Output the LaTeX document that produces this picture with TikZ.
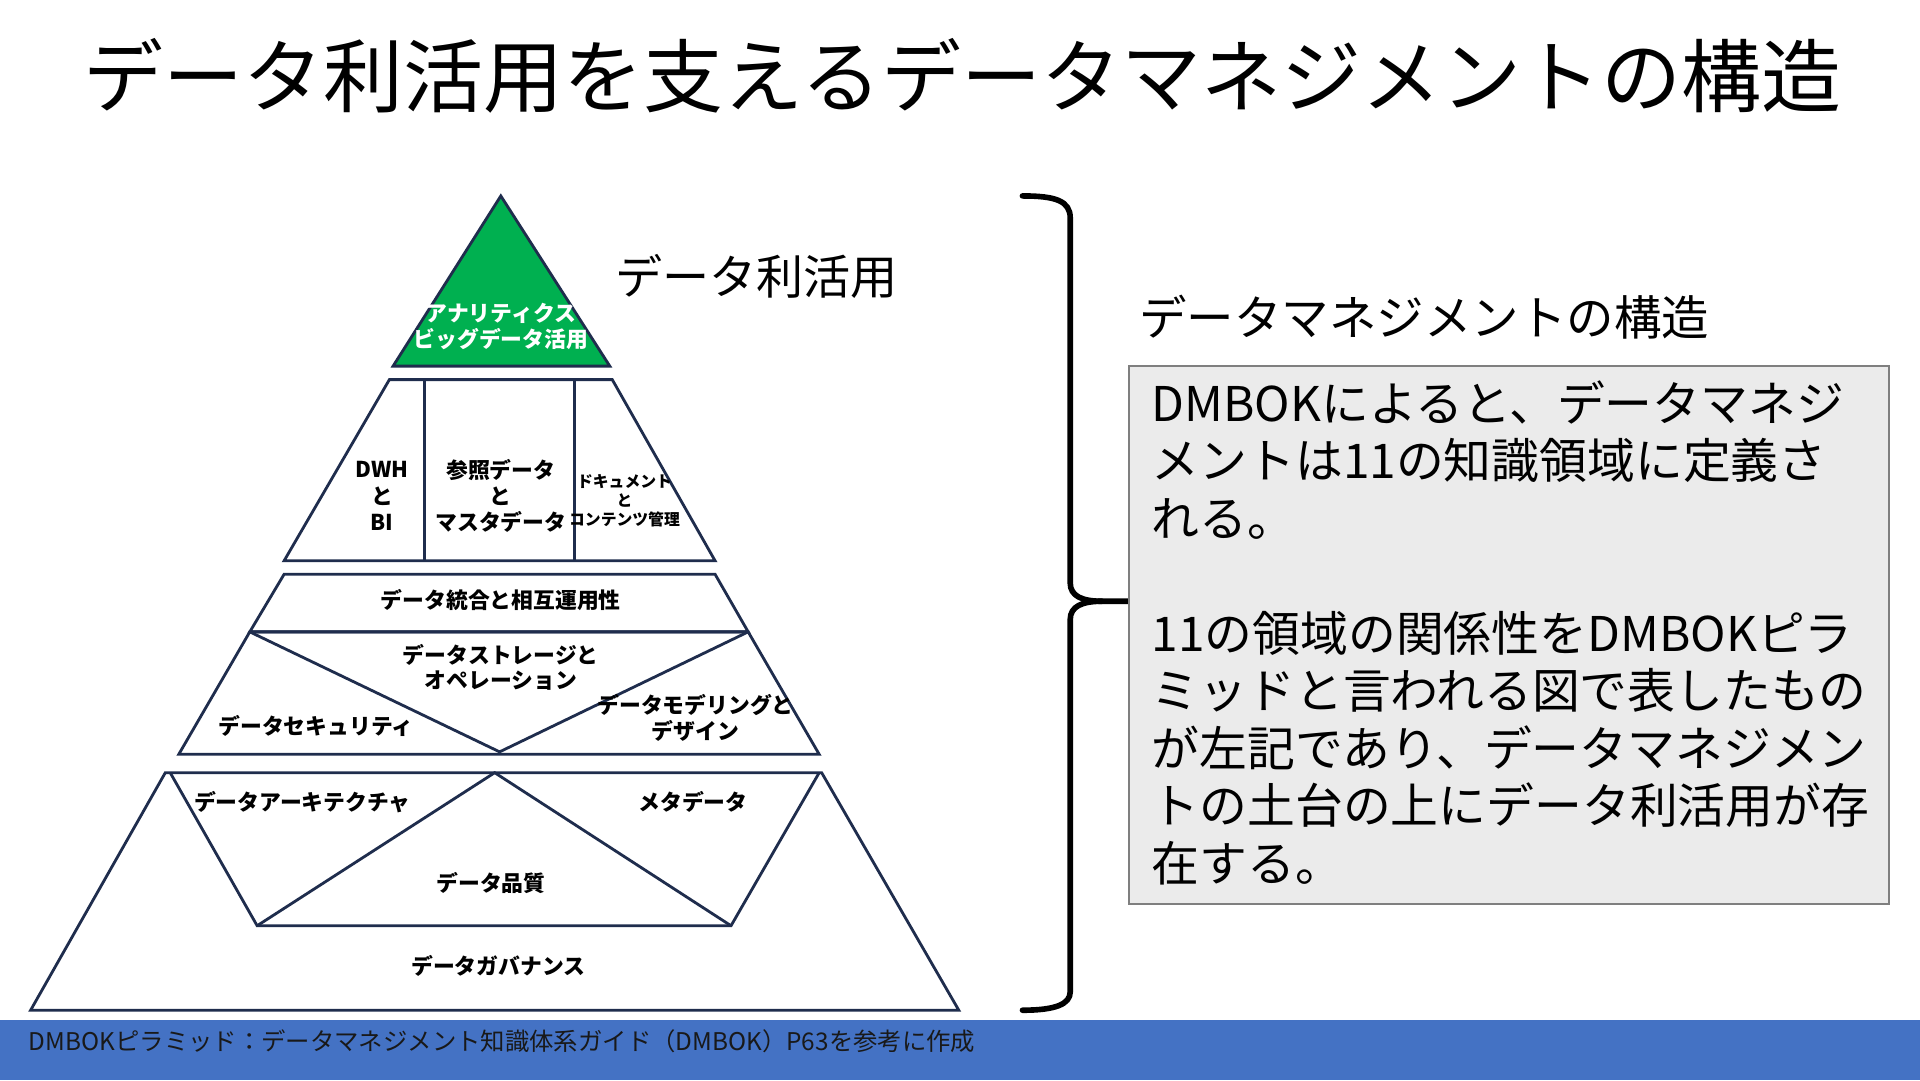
\documentclass[tikz,border=0pt]{standalone}
\usepackage{fontspec}
\newfontfamily\jp{Noto Sans CJK JP}
\definecolor{navy}{HTML}{1F2D4D}
\definecolor{pgreen}{HTML}{00B050}
\definecolor{boxgray}{HTML}{EBEBEB}
\definecolor{boxline}{HTML}{7F7F7F}
\definecolor{band}{HTML}{4472C4}
\tikzset{
  tier/.style={draw=navy, line width=0.8pt, line join=miter},
  ptext/.style={font=\jp\bfseries\fontsize{6.2}{7.4}\selectfont, align=center, inner sep=0pt, text=black},
  psmall/.style={font=\jp\bfseries\fontsize{4.5}{5.4}\selectfont, align=center, inner sep=0pt, text=black},
  bracepath/.style={draw=black, line width=1.6pt, line cap=round, line join=round},
}
\begin{document}
\begin{tikzpicture}[x=0.012245cm, y=-0.012245cm]
\useasboundingbox (0,0) rectangle (1568,882);
\fill[white] (0,0) rectangle (1568,882);

% title
\node[font=\jp\fontsize{22.75}{27}\selectfont, inner sep=0pt] (title) at (786,62) {データ利活用を支えるデータマネジメントの構造};

% top green triangle
\draw[tier, fill=pgreen] (409,160) -- (498,299) -- (321,299) -- cycle;
\node[ptext, text=white] (analytics) at (409,267) {アナリティクス\\ビッグデータ活用};

% tier 2
\draw[tier] (318,310) -- (500,310) -- (584,458) -- (232,458) -- cycle;
\draw[tier] (347,310) -- (347,458);
\draw[tier] (469,310) -- (469,458);
\node[ptext, font=\jp\bfseries\fontsize{6.2}{7.5}\selectfont] (dwh) at (312,405) {DWH\\と\\BI};
\node[ptext, font=\jp\bfseries\fontsize{6.2}{7.5}\selectfont] (master) at (409,405) {参照データ\\と\\マスタデータ};
\node[psmall] (docs) at (510,409) {ドキュメント\\と\\コンテンツ管理};

% tier 3
\draw[tier] (232,469) -- (584,469) -- (611,516) -- (204,516) -- cycle;
\node[ptext] (integ) at (409,490) {データ統合と相互運用性};

% tier 4
\draw[tier] (204,516) -- (611,516) -- (669,616) -- (146,616) -- cycle;
\draw[tier] (204,516) -- (408,614) -- (611,516);
\node[ptext, font=\jp\bfseries\fontsize{6.2}{7.3}\selectfont] (storage) at (409,545) {データストレージと\\オペレーション};
\node[ptext] (security) at (258,593) {データセキュリティ};
\node[ptext, font=\jp\bfseries\fontsize{6.2}{7.3}\selectfont] (modeling) at (568,586) {データモデリングと\\デザイン};

% tier 5
\draw[tier] (135,631) -- (671,631) -- (783,825) -- (25,825) -- cycle;
\draw[tier] (139,631) -- (210,756) -- (597,756) -- (669,631);
\draw[tier] (210,756) -- (404,631) -- (597,756);
\node[ptext] (arch) at (247,655) {データアーキテクチャ};
\node[ptext] (meta) at (566,655) {メタデータ};
\node[ptext] (quality) at (401,721) {データ品質};
\node[ptext] (gov) at (407,789) {データガバナンス};

% labels
\node[font=\jp\fontsize{13.4}{16}\selectfont, inner sep=0pt] (use) at (618,226) {データ利活用};
\node[font=\jp\fontsize{13.5}{16}\selectfont, inner sep=0pt] (struct) at (1163,259) {データマネジメントの構造};

% brace
\draw[bracepath] (835,160) .. controls (862,160) and (874,164) .. (874,178) -- (874,476)
  .. controls (874,487) and (884,491) .. (900,491) -- (922,491);
\draw[bracepath] (900,491) .. controls (884,491) and (874,495) .. (874,506) -- (874,810)
  .. controls (874,820) and (862,825) .. (835,825);

% text box
\draw[draw=boxline, fill=boxgray, line width=0.6pt] (922,299) rectangle (1543,738);
\node[anchor=north west, align=left, inner sep=0pt, font=\jp\fontsize{13.6}{16.35}\selectfont] (desc) at (940,310)
  {DMBOKによると、データマネジ\\メントは11の知識領域に定義さ\\れる。\\[16.35pt]11の領域の関係性をDMBOKピラ\\ミッドと言われる図で表したもの\\が左記であり、データマネジメン\\トの土台の上にデータ利活用が存\\在する。};

% footer
\fill[band] (0,833) rectangle (1568,882);
\node[anchor=west, inner sep=0pt, font=\jp\fontsize{6.93}{8}\selectfont, text=black!90] (foot) at (23,850) {DMBOKピラミッド：データマネジメント知識体系ガイド（DMBOK）P63を参考に作成};
\end{tikzpicture}
\end{document}
